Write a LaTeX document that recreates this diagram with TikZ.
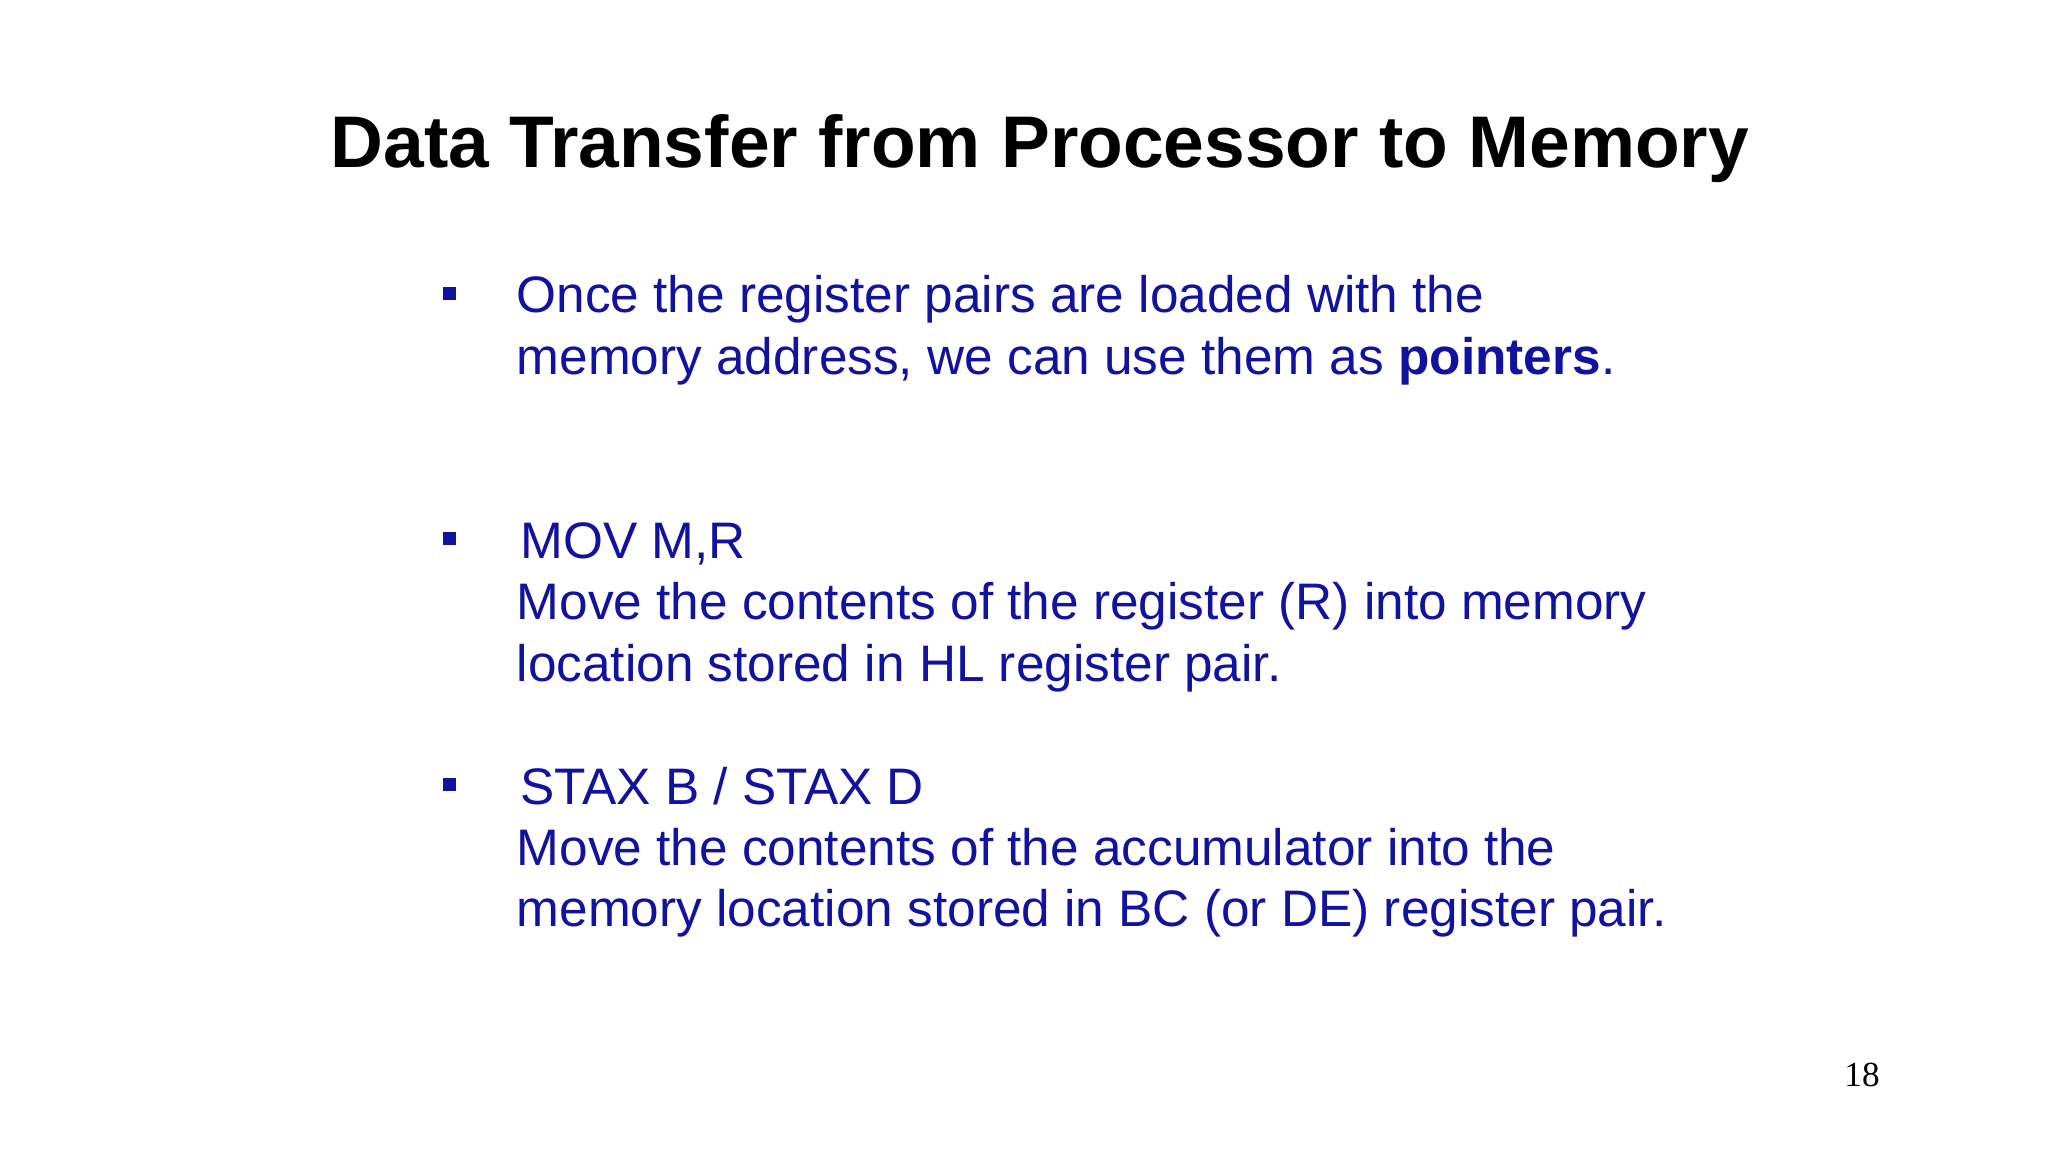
\documentclass[tikz,border=0pt]{standalone}
\usepackage{fontspec}
\setmainfont{Liberation Sans}
\newfontfamily\pnfont{Liberation Serif}
\definecolor{txtblue}{RGB}{18,18,160}
\begin{document}
\begin{tikzpicture}[x=0.01cm,y=0.01cm,
  body/.style={anchor=base west,inner sep=0pt,text=txtblue,font=\fontsize{14.6pt}{17pt}\selectfont},
  bul/.style={fill=txtblue,minimum size=0.13cm,inner sep=0pt}]
\useasboundingbox[fill=white] (0,0) rectangle (2048,1152);
\node[anchor=base,inner sep=0pt,font=\bfseries\fontsize{20.8pt}{24pt}\selectfont] (title) at (1040,1152-168) {Data Transfer from Processor to Memory};
\node[bul] (b1) at (449,1152-294) {};
\node[body] (l1) at (516,1152-313) {Once the register pairs are loaded with the};
\node[body] (l2) at (516,1152-375) {memory address, we can use them as \textbf{pointers}.};
\node[bul] (b2) at (449,1152-539) {};
\node[body] (l3) at (520,1152-559) {MOV M,R};
\node[body] (l4) at (516,1152-620) {Move the contents of the register (R) into memory};
\node[body] (l5) at (516,1152-682) {location stored in HL register pair.};
\node[bul] (b3) at (449,1152-785) {};
\node[body] (l6) at (520,1152-805) {STAX B / STAX D};
\node[body] (l7) at (516,1152-866) {Move the contents of the accumulator into the};
\node[body] (l8) at (516,1152-927) {memory location stored in BC (or DE) register pair.};
\node[anchor=base,inner sep=0pt,font=\pnfont\fontsize{10pt}{12pt}\selectfont] (pn) at (1862,1152-1087) {18};
\end{tikzpicture}
\end{document}
